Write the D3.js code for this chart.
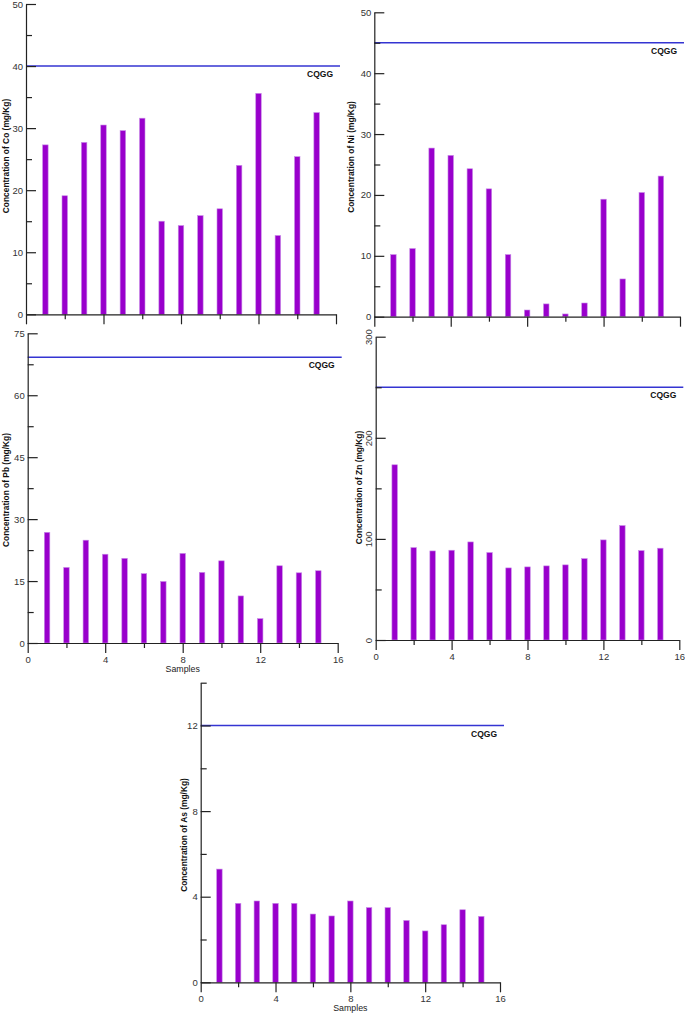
<!DOCTYPE html>
<html>
<head>
<meta charset="utf-8">
<script src="https://cdn.jsdelivr.net/npm/d3@7"></script>
<style>
  html, body { margin: 0; padding: 0; background: #fff; }
  svg { display: block; font-family: "Liberation Sans", Arial, sans-serif; }
</style>
</head>
<body>
<svg id="chart" width="685" height="1015"></svg>
<script>
// ---------- DATA ----------
const samples = [1, 2, 3, 4, 5, 6, 7, 8, 9, 10, 11, 12, 13, 14, 15];
const coValues = [27.3, 19.1, 27.7, 30.5, 29.6, 31.6, 15.0, 14.3, 15.9, 17.0, 24.0, 35.6, 12.7, 25.4, 32.5];
const niValues = [10.2, 11.2, 27.7, 26.5, 24.3, 21.0, 10.2, 1.1, 2.1, 0.45, 2.25, 19.3, 6.2, 20.4, 23.1];
const pbValues = [26.8, 18.3, 24.9, 21.5, 20.5, 16.8, 14.9, 21.7, 17.1, 19.9, 11.4, 5.9, 18.7, 17.0, 17.5];
const znValues = [173.3, 91.4, 88.1, 88.8, 97.0, 86.5, 71.3, 72.3, 73.3, 74.3, 80.5, 99.0, 113.2, 88.4, 90.8];
const asValues = [5.29, 3.69, 3.80, 3.69, 3.69, 3.19, 3.10, 3.80, 3.49, 3.49, 2.89, 2.40, 2.69, 3.39, 3.08];
const cqgg = { Co: 40, Ni: 45, Pb: 69.2, Zn: 250, As: 12 };
const xTickLabels = [0, 4, 8, 12, 16];
const xMinorTicks = [2, 6, 10, 14];
const yMax = { Co: 50, Ni: 50, Pb: 75, Zn: 300, As: 14 };
const yMajorStep = { Co: 10, Ni: 10, Pb: 15, Zn: 100, As: 4 };
const yMinorStep = { Co: 5, Ni: 5, Pb: 7.5, Zn: 50, As: 2 };

// ---------- LAYOUT ----------
const panels = [
  { el: "Co", values: coValues, xL: 26,    xR: 336,   yB: 314.3, yT: 4,     showX: false, samples: false, rotY: false, titleX: 6,     titleY: 156 },
  { el: "Ni", values: niValues, xL: 374.3, xR: 680,   yB: 316.7, yT: 12.3,  showX: false, samples: false, rotY: false, titleX: 350.5, titleY: 157 },
  { el: "Pb", values: pbValues, xL: 27.7,  xR: 337.7, yB: 643,   yT: 333.3, showX: true,  samples: true,  rotY: false, titleX: 5.5,   titleY: 490 },
  { el: "Zn", values: znValues, xL: 375.7, xR: 679.3, yB: 640,   yT: 336.7, showX: true,  samples: false, rotY: true,  titleX: 358.5, titleY: 487.5 },
  { el: "As", values: asValues, xL: 200.7, xR: 500,   yB: 982.3, yT: 682.7, showX: true,  samples: true,  rotY: false, titleX: 183.5, titleY: 835 }
];

const svg = d3.select("#chart");
const axisColor = "#222";
const barColor = "#9900cc";
const barEdge = "#c88ce8";
const lineColor = "#3434d2";
const tickFont = 9.5;

function rangeStep(max, step) {
  const out = [];
  for (let v = 0; v <= max + 1e-9; v += step) out.push(+v.toFixed(4));
  return out;
}

panels.forEach(p => {
  const x = d3.scaleLinear().domain([0, 16]).range([p.xL, p.xR]);
  const y = d3.scaleLinear().domain([0, yMax[p.el]]).range([p.yB, p.yT]);
  const g = svg.append("g");

  // CQGG line
  g.append("line")
    .attr("x1", p.xL).attr("x2", p.xR + 4)
    .attr("y1", y(cqgg[p.el])).attr("y2", y(cqgg[p.el]))
    .attr("stroke", lineColor).attr("stroke-width", 1.5);
  g.append("text")
    .attr("x", p.xR - 3).attr("y", y(cqgg[p.el]) + 11)
    .attr("text-anchor", "end")
    .attr("font-size", 8.5).attr("font-weight", "bold").attr("fill", "#111")
    .text("CQGG");

  // bars
  const bw = 5.5;
  g.selectAll("rect.bar").data(p.values).join("rect")
    .attr("class", "bar")
    .attr("x", (d, i) => x(samples[i]) - bw / 2)
    .attr("width", bw)
    .attr("y", d => y(d))
    .attr("height", d => y(0) - y(d))
    .attr("fill", barColor)
    .attr("stroke", barEdge).attr("stroke-width", 0.6);

  // y axis
  const majors = rangeStep(yMax[p.el], yMajorStep[p.el]);
  const minors = rangeStep(yMax[p.el], yMinorStep[p.el]).filter(v => !majors.some(m => Math.abs(m - v) < 1e-6));
  const yAxis = g.append("g").attr("transform", `translate(${p.xL},0)`)
    .call(d3.axisLeft(y).tickValues(majors).tickSizeInner(-10).tickSizeOuter(0).tickPadding(3).tickFormat(d3.format("d")));
  const yMinor = g.append("g").attr("transform", `translate(${p.xL},0)`)
    .call(d3.axisLeft(y).tickValues(minors).tickSizeInner(-6).tickSizeOuter(0).tickFormat(""));
  yMinor.select(".domain").remove();
  [yAxis, yMinor].forEach(a => {
    a.selectAll("line").attr("stroke", axisColor).attr("stroke-width", 1.2);
    a.selectAll(".domain").attr("stroke", axisColor).attr("stroke-width", 1.2);
    a.selectAll("text").attr("font-size", tickFont).attr("fill", "#333").attr("font-family", "Liberation Sans, Arial, sans-serif");
  });
  if (p.rotY) {
    yAxis.selectAll("text")
      .attr("x", 0).attr("y", -3.5).attr("dy", 0)
      .attr("text-anchor", "middle")
      .attr("transform", "rotate(-90)");
  }

  // x axis
  const xAxis = g.append("g").attr("transform", `translate(0,${p.yB})`)
    .call(d3.axisBottom(x).tickValues(xTickLabels).tickSizeInner(10).tickSizeOuter(0).tickPadding(3)
      .tickFormat(p.showX ? d3.format("d") : ""));
  const xMinor = g.append("g").attr("transform", `translate(0,${p.yB})`)
    .call(d3.axisBottom(x).tickValues(xMinorTicks).tickSizeInner(5).tickSizeOuter(0).tickFormat(""));
  xMinor.select(".domain").remove();
  [xAxis, xMinor].forEach(a => {
    a.selectAll("line").attr("stroke", axisColor).attr("stroke-width", 1.2);
    a.selectAll(".domain").attr("stroke", axisColor).attr("stroke-width", 1.2);
    a.selectAll("text").attr("font-size", tickFont).attr("fill", "#333").attr("font-family", "Liberation Sans, Arial, sans-serif");
  });

  if (p.samples) {
    g.append("text")
      .attr("x", x(8)).attr("y", p.yB + 28.5)
      .attr("text-anchor", "middle")
      .attr("font-size", 8.8).attr("fill", "#222")
      .text("Samples");
  }

  // y title
  g.append("text")
    .attr("transform", `translate(${p.titleX + 3},${p.titleY}) rotate(-90)`)
    .attr("text-anchor", "middle")
    .attr("font-size", 8.4).attr("font-weight", "bold").attr("fill", "#111")
    .text(`Concentration of ${p.el} (mg/Kg)`);
});
</script>
</body>
</html>
